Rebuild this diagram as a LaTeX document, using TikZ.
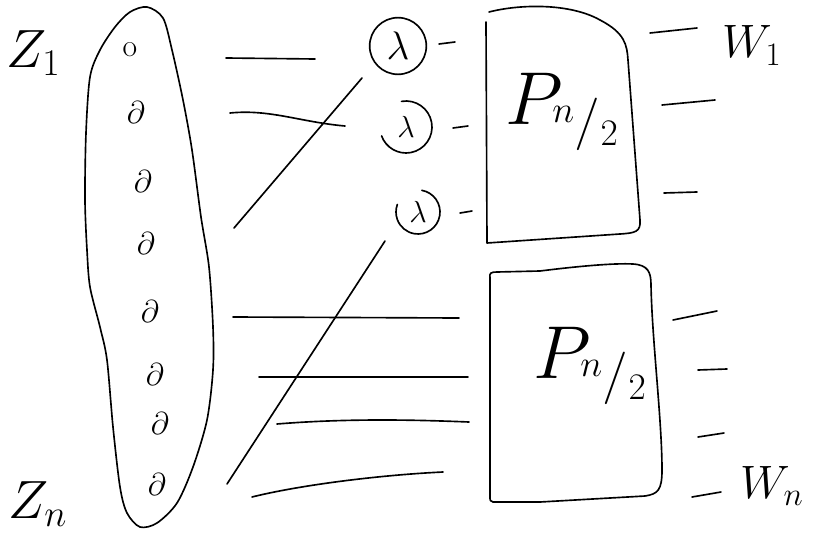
\RequirePackage{fix-cm}
\documentclass[tikz,border=0pt]{standalone}
\usepackage{tikz}
\usetikzlibrary{positioning,calc}
\definecolor{inkcolor}{RGB}{0,0,0}
\tikzset{
inkline/.style={
  draw=inkcolor,
  line width=1.4pt,
  line cap=round,
  line join=round
},
dotmark/.style={
  font=\fontsize{27}{29}\selectfont,
  text=inkcolor,
  inner sep=0pt
},
twiddle/.style={
  font=\fontsize{26}{28}\selectfont,
  text=inkcolor,
  inner sep=0pt
},
endlabel/.style={
  font=\fontsize{46}{50}\selectfont,
  text=inkcolor,
  inner sep=0pt,
  anchor=base west
},
boxlabel/.style={
  font=\fontsize{64}{68}\selectfont,
  text=inkcolor,
  inner sep=0pt
}
}

\begin{document}
\begin{tikzpicture}[x=0.03cm, y=-0.03cm]
        \useasboundingbox (0,0) rectangle (817,534);

        % input ellipse
        \draw[inkline] plot[smooth cycle] coordinates {
          (147,7) (163,18) (172,50) (183,100) (192,150) (201,217) (209,267)
          (213,327) (213,370) (207,420) (193,467) (177,503) (157,523) (140,527)
          (127,513) (120,487) (113,427) (107,360) (100,327) (90,287) (87,250)
          (85,200) (86,133) (90,77) (100,50) (115,27) (130,12)};

        % input labels
        \node[endlabel] (zone) at (6,67) {$Z_1$};
        \node[endlabel] (zn) at (8,518) {$Z_n$};

        % samples
        \node[dotmark] (s1) at (130,50) {o};
        \node[dotmark] (s2) at (136,113) {$\partial$};
        \node[dotmark] (s3) at (143,182) {$\partial$};
        \node[dotmark] (s4) at (146,244) {$\partial$};
        \node[dotmark] (s5) at (150,312) {$\partial$};
        \node[dotmark] (s6) at (155,375) {$\partial$};
        \node[dotmark] (s7) at (160,424) {$\partial$};
        \node[dotmark] (s8) at (157,485) {$\partial$};

        % lines to the upper half
        \draw[inkline] (226,58) -- (315,59);
        \draw[inkline] (230,113) .. controls (270,109) and (300,122) .. (345,126);
        \draw[inkline] (234,228) -- (362,78);

        % lines to the lower half
        \draw[inkline] (227,484) -- (385,241);
        \draw[inkline] (233,317) -- (459,318);
        \draw[inkline] (259,377) -- (468,377);
        \draw[inkline] (277,424) .. controls (350,418) and (420,420) .. (469,422);
        \draw[inkline] (252,497) .. controls (300,485) and (380,475) .. (443,472);

        % twiddle circles
        \node[twiddle, draw=inkcolor, line width=1.4pt, circle, minimum size=1.7cm,
          font=\fontsize{34}{36}\selectfont] (t1) at (398,46) {$\lambda$};
        \node[twiddle] (t2) at (406,127) {$\lambda$};
        \draw[inkline] ([shift={(100:0.78cm)}]t2.center) arc[start angle=100, end angle=-160, radius=0.78cm];
        \node[twiddle] (t3) at (418,212) {$\lambda$};
        \draw[inkline] ([shift={(80:0.66cm)}]t3.center) arc[start angle=80, end angle=-200, radius=0.66cm];

        % dashes into the upper box
        \draw[inkline] (439,44) -- (455,42);
        \draw[inkline] (453,128) -- (468,126);
        \draw[inkline] (460,213) -- (472,211);

        % upper P box
        \draw[inkline] (489,12) .. controls (520,4) and (570,3) .. (600,20)
          .. controls (625,33) and (627,45) .. (628,60) -- (640,220)
          .. controls (641,232) and (635,233) .. (620,234) -- (487,243) -- (486,22);
        \node[boxlabel] (pone) at (562,112) {$P_{{}^{n}/{}_{2}}$};

        % lower P box
        \draw[inkline] (490,278) .. controls (489,273) and (491,272) .. (497,272) -- (540,271)
          .. controls (580,266) and (615,263) .. (633,264)
          .. controls (648,265) and (651,272) .. (651,285)
          .. controls (652,340) and (662,420) .. (662,470)
          .. controls (662,490) and (658,494) .. (645,496) -- (540,502) -- (493,502)
          .. controls (490,502) and (490,500) .. (490,496) -- cycle;
        \node[boxlabel] (ptwo) at (590,366) {$P_{{}^{n}/{}_{2}}$};

        % output dashes
        \draw[inkline] (650,33) -- (697,28);
        \draw[inkline] (662,105) -- (715,100);
        \draw[inkline] (664,193) -- (697,192);
        \draw[inkline] (673,320) -- (717,311);
        \draw[inkline] (698,370) -- (727,369);
        \draw[inkline] (698,437) -- (724,433);
        \draw[inkline] (692,497) -- (721,492);

        % output labels
        \node[endlabel, font=\fontsize{40}{44}\selectfont] (wone) at (722,58) {$W_1$};
        \node[endlabel, font=\fontsize{40}{44}\selectfont] (wn) at (740,498) {$W_n$};
      \end{tikzpicture}
\end{document}
